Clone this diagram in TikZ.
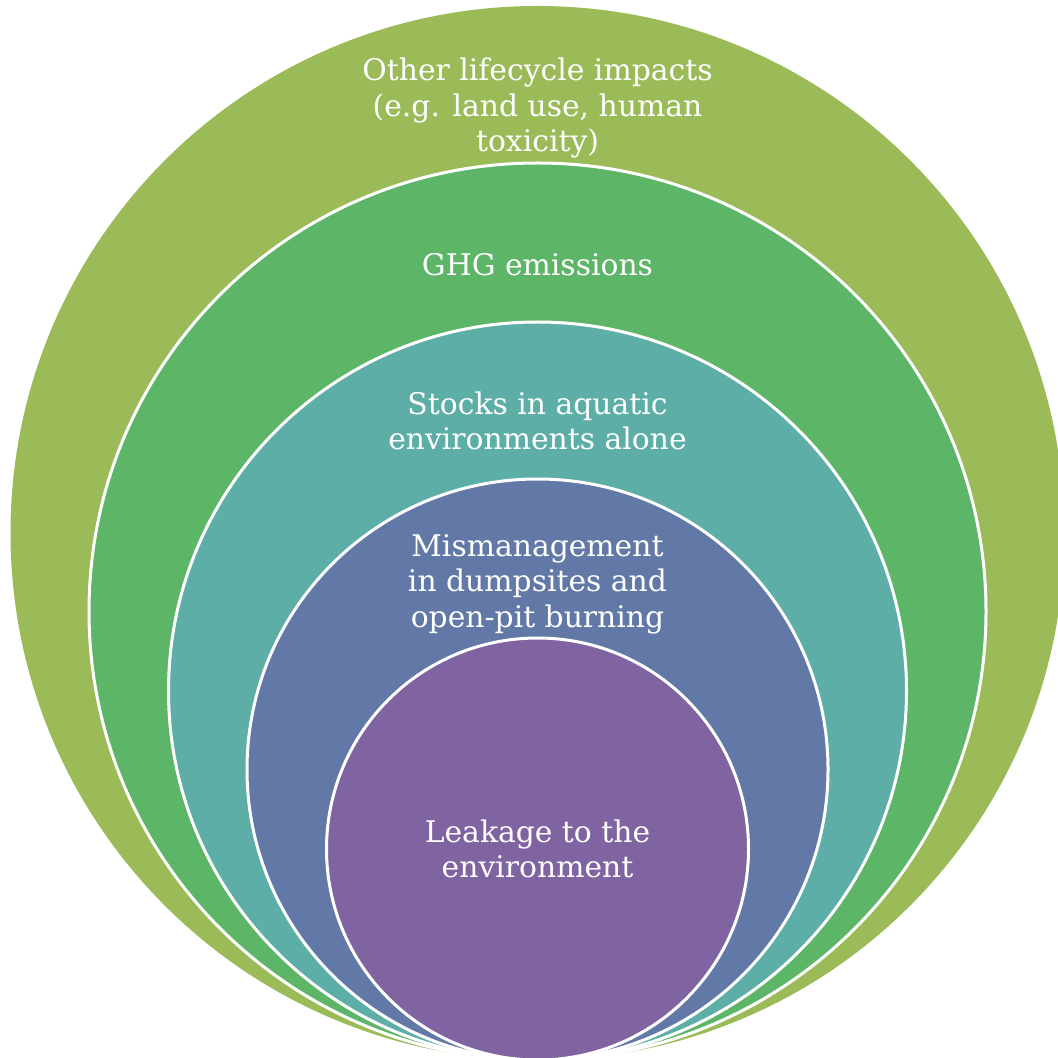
\documentclass[tikz,border=0pt]{standalone}
\usepackage{fontspec}
\setmainfont{DejaVu Serif}
\definecolor{ringA}{HTML}{9BBB59}
\definecolor{ringB}{HTML}{5DB567}
\definecolor{ringC}{HTML}{5DAEA6}
\definecolor{ringD}{HTML}{6279A8}
\definecolor{ringE}{HTML}{8064A2}
\begin{document}
\begin{tikzpicture}[x=0.5pt,y=-0.5pt,
  ring/.style={draw=white,line width=1.5pt},
  label/.style={text=white,align=center,inner sep=0pt,
    font=\fontsize{14.9pt}{17.75pt}\selectfont}]
\useasboundingbox (0,0) rectangle (1058,1058);
\clip (0,0) rectangle (1058,1058);
% nested circles, all touching at the bottom
\fill[ringA] (537.5,533) circle[radius=527];
\draw[ring,fill=ringB] (537.5,611.5) circle[radius=448.5];
\draw[ring,fill=ringC] (537.5,691) circle[radius=369];
\draw[ring,fill=ringD] (537.5,769.5) circle[radius=290.5];
\draw[ring,fill=ringE] (537.5,849) circle[radius=211];
% labels
\node[label] (other) at (537.5,108) {Other lifecycle impacts\\(e.g. land use, human\\toxicity)};
\node[label] (ghg) at (537.5,265) {GHG emissions};
\node[label] (stocks) at (537.5,421) {Stocks in aquatic\\environments alone};
\node[label] (mism) at (537.5,584) {Mismanagement\\in dumpsites and\\open-pit burning};
\node[label] (leak) at (537.5,849) {Leakage to the\\environment};
\end{tikzpicture}
\end{document}
